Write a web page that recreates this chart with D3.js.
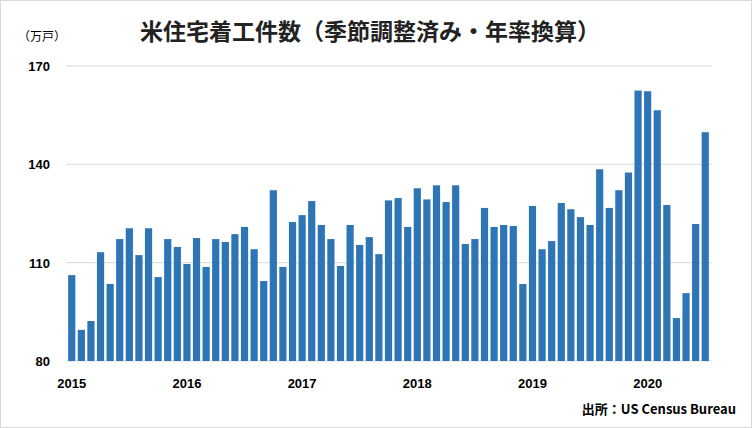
<!DOCTYPE html><html><head><meta charset="utf-8"><script src="https://cdn.jsdelivr.net/npm/d3@7"></script>
<style>body{margin:0;background:#fff}</style></head><body><script>
const years=["2015","2016","2017","2018","2019","2020"];
const values=[106.2,89.5,92.2,113.2,103.5,117.2,120.5,112.3,120.5,105.6,117.2,114.8,
109.6,117.5,108.7,117.2,116.3,118.7,120.9,114.1,104.4,132.1,108.7,122.4,
124.5,128.8,121.5,117.2,109,121.5,115.4,117.8,112.6,129,129.7,120.9,
132.7,129.3,133.6,128.5,133.6,115.7,117.2,126.7,120.9,121.5,121.2,103.5,
127.3,114.1,116.6,128.2,126.3,123.9,121.5,138.5,126.7,132.1,137.5,162.5,
162.3,156.5,127.6,93.1,100.7,121.8,149.8];
const yTicks=[80,110,140,170];
const months=values.map((v,i)=>i);
const W=752,H=428;
const svg=d3.select("body").append("svg").attr("width",W).attr("height",H).style("font-family","'Noto Sans CJK JP',sans-serif");
svg.append("rect").attr("x",0.5).attr("y",0.5).attr("width",W-1).attr("height",H-1).attr("fill","#fff").attr("stroke","#d9d9d9");
const x=d3.scaleBand().domain(months).range([67,710]).paddingInner(0.25).paddingOuter(0.12);
const y=d3.scaleLinear().domain([80,170]).range([361,66]);
svg.append("g").selectAll("line").data(yTicks).join("line").attr("x1",66).attr("x2",712)
 .attr("y1",d=>y(d)).attr("y2",d=>y(d)).attr("stroke","#d9d9d9");
svg.append("g").selectAll("text").data(yTicks).join("text").attr("x",50).attr("y",d=>y(d)+5)
 .attr("text-anchor","end").attr("font-size",13).attr("font-weight","bold").attr("font-family","Arial,'Liberation Sans',sans-serif").attr("fill","#000").text(d=>d);
svg.append("g").selectAll("rect").data(values).join("rect").attr("x",(d,i)=>x(i)).attr("width",x.bandwidth())
 .attr("y",d=>y(d)).attr("height",d=>y(80)-y(d)).attr("fill","#2e75b6");
svg.append("g").selectAll("text").data(years).join("text").attr("x",(d,i)=>x(i*12)+x.bandwidth()/2).attr("y",388)
 .attr("text-anchor","middle").attr("font-size",13).attr("font-weight","bold").attr("font-family","Arial,'Liberation Sans',sans-serif").text(d=>d);
svg.append("text").attr("x",370).attr("y",40).attr("text-anchor","middle").attr("font-size",23).attr("font-weight","bold").attr("fill","#222").text("米住宅着工件数（季節調整済み・年率換算）");
svg.append("text").attr("x",18).attr("y",41).attr("font-size",12).text("（万戸）");
svg.append("text").attr("x",736).attr("y",414).attr("text-anchor","end").attr("font-size",13).attr("font-weight","bold").text("出所：US Census Bureau");
</script></body></html>
